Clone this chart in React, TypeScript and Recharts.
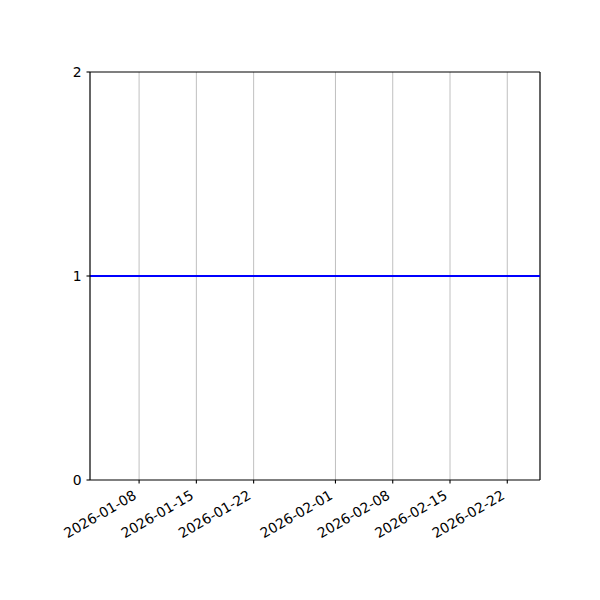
import React from 'react';
import { LineChart, Line, XAxis, YAxis, CartesianGrid, ReferenceLine } from 'recharts';

// data
const lineDates = ['2026-01-02', '2026-02-26'];
const lineValues = [1, 1];
const tickDates = ['2026-01-08', '2026-01-15', '2026-01-22', '2026-02-01', '2026-02-08', '2026-02-15', '2026-02-22'];
const yTicks = [0, 1, 2];
const xStart = '2026-01-02';
const xEnd = '2026-02-26';

const toTs = (d: string) => Date.parse(d + 'T00:00:00Z');
const fmt = (ts: number) => new Date(ts).toISOString().slice(0, 10);

const data = lineDates.map((d, i) => ({ t: toTs(d), v: lineValues[i] }));

const FONT = 'DejaVu Sans';
const FS = 13.9;
const SPINE = 1.1;

// rotated date label, end of baseline placed like matplotlib's ha=right / rotation=30
const DateTick = (props: any) => {
  const { x, y, payload } = props;
  return (
    <g transform={`translate(${x - 1.7},${y + 12.7}) rotate(-30)`}>
      <text x={0} y={0} textAnchor="end" fontFamily={FONT} fontSize={FS} fill="#000">
        {fmt(payload.value)}
      </text>
    </g>
  );
};

const App: React.FC = () => {
  return (
    <div style={{ position: 'absolute', left: 0, top: 0, width: 600, height: 600, background: '#fff' }}>
      <LineChart width={600} height={600} data={data} margin={{ top: 72, right: 60, left: 0, bottom: 0 }}>
        <CartesianGrid horizontal={false} stroke="#b0b0b0" strokeWidth={0.8} />
        <XAxis
          dataKey="t"
          type="number"
          scale="time"
          domain={[toTs(xStart), toTs(xEnd)]}
          ticks={tickDates.map(toTs)}
          tick={<DateTick />}
          tickSize={3.5}
          tickLine={{ stroke: '#000', strokeWidth: SPINE }}
          axisLine={{ stroke: '#000', strokeWidth: SPINE }}
          height={120}
          interval={0}
          allowDataOverflow
        />
        <YAxis
          domain={[0, 2]}
          ticks={yTicks}
          width={90}
          tickSize={3.5}
          tickMargin={5}
          tickLine={{ stroke: '#000', strokeWidth: SPINE }}
          axisLine={{ stroke: '#000', strokeWidth: SPINE }}
          tick={{ fill: '#000', fontFamily: FONT, fontSize: FS }}
          interval={0}
        />
        <ReferenceLine y={2} stroke="#000" strokeWidth={SPINE} />
        <ReferenceLine x={toTs(xEnd)} stroke="#000" strokeWidth={SPINE} />
        <Line dataKey="v" stroke="#0000ff" strokeWidth={2} dot={false} isAnimationActive={false} />
      </LineChart>
    </div>
  );
};

export default App;
